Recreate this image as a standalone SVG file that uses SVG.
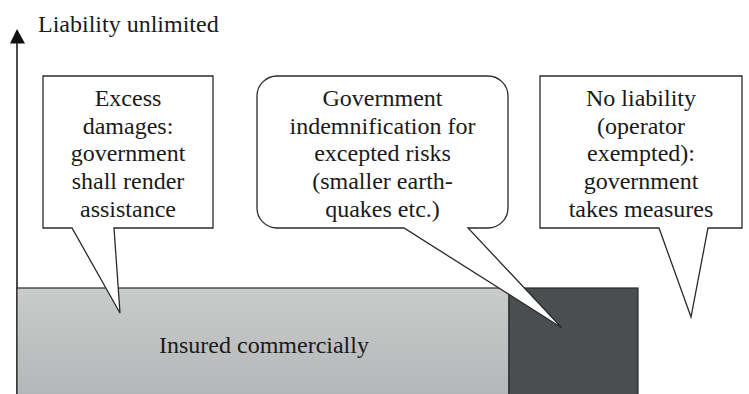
<svg xmlns="http://www.w3.org/2000/svg" width="749" height="394" viewBox="0 0 749 394">
  <style>
    .t { font-family: 'Liberation Serif', Tinos, 'Times New Roman', 'DejaVu Serif', serif; font-size: 24px; fill: #1a1a1a; text-anchor: middle; }
    .call { fill: #ffffff; stroke: #2a2a2a; stroke-width: 1.3; stroke-linejoin: miter; }
  </style>
  <defs>
    <linearGradient id="gray" x1="0" y1="0" x2="0" y2="1">
      <stop offset="0" stop-color="#cacbcb"/>
      <stop offset="1" stop-color="#b3b6b7"/>
    </linearGradient>
  </defs>
  <rect width="749" height="394" fill="#ffffff"/>

  <g id="axis">
    <line x1="17" y1="42" x2="17" y2="394" stroke="#111" stroke-width="1.5"/>
    <polygon points="17,29 10,43.5 25,43.5" fill="#111"/>
    <text x="38" y="32" class="t" font-family="Liberation Serif, serif" style="text-anchor:start">Liability unlimited</text>
  </g>

  <g id="insured">
    <rect x="17" y="288" width="492" height="110" fill="url(#gray)" stroke="#2a2a2a" stroke-width="1.2"/>
    <text x="264" y="353" class="t">Insured commercially</text>
  </g>
  <g id="excepted">
    <rect x="509" y="288" width="129" height="110" fill="#4b4e51" stroke="#2a2a2a" stroke-width="1.2"/>
  </g>

  <g id="connectors"></g>

  <g id="excess">
    <path class="call" d="M43,76 H213 V228 H114 L120,313 L72,228 H43 Z"/>
    <text class="t" x="128" y="106">Excess</text>
    <text class="t" x="128" y="133.7">damages:</text>
    <text class="t" x="128" y="161.4">government</text>
    <text class="t" x="128" y="189">shall render</text>
    <text class="t" x="128" y="216.7">assistance</text>
  </g>

  <g id="indemnification">
    <path class="call" d="M277,76 H488 A20,20 0 0 1 508,96 V208 A20,20 0 0 1 488,228 H468 L562,328 L404,228 H277 A20,20 0 0 1 257,208 V96 A20,20 0 0 1 277,76 Z"/>
    <text class="t" x="382.5" y="106">Government</text>
    <text class="t" x="382.5" y="133.7">indemnification for</text>
    <text class="t" x="382.5" y="161.4">excepted risks</text>
    <text class="t" x="382.5" y="189">(smaller earth-</text>
    <text class="t" x="382.5" y="216.7">quakes etc.)</text>
  </g>

  <g id="noliability">
    <path class="call" d="M540,76 H742 V228 H708 L691,317 L659,228 H540 Z"/>
    <text class="t" x="641" y="106">No liability</text>
    <text class="t" x="641" y="133.7">(operator</text>
    <text class="t" x="641" y="161.4">exempted):</text>
    <text class="t" x="641" y="189">government</text>
    <text class="t" x="641" y="216.7">takes measures</text>
  </g>
</svg>
